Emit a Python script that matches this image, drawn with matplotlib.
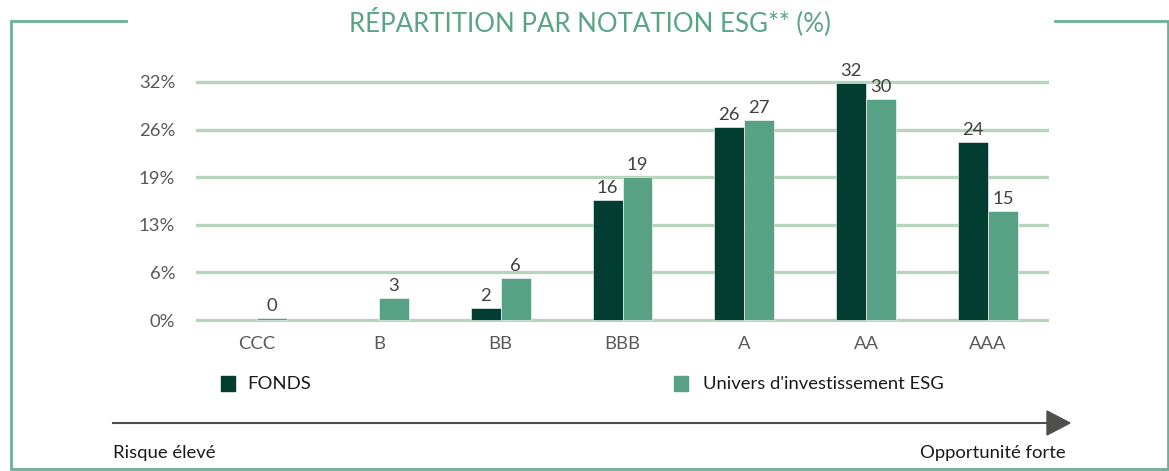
import matplotlib.pyplot as plt
import numpy as np
from matplotlib.patches import Rectangle, Polygon

plt.rcParams['font.family'] = ['Lato', 'DejaVu Sans']

categories = ["CCC", "B", "BB", "BBB", "A", "AA", "AAA"]
fonds = [None, None, 1.65, 16.1, 25.9, 31.9, 23.9]
univers = [0.3, 2.96, 5.6, 19.2, 26.9, 29.65, 14.6]
series_names = ["FONDS", "Univers d'investissement ESG"]
yticks = [0, 6.4, 12.8, 19.2, 25.6, 32]

c_fonds = "#013d31"
c_univ = "#57a285"
c_grid = "#b7d5bb"
c_frame = "#6cb095"
c_title = "#5aa483"
fs = 13.3

W, H = 1169, 471
fig = plt.figure(figsize=(W / 100, H / 100), dpi=100)

# main axes, placed in pixel units
px = 7.44
left, right = 196, 1049
y0 = 320 + 0.3 * px
y1 = 82 - 0.3 * px
ax = fig.add_axes([left / W, (H - y0) / H, (right - left) / W, (y0 - y1) / H])
ax.set_xlim(-0.5, len(categories) - 0.5)
ax.set_ylim(-0.3, 32.3)

x = np.arange(len(categories))
bw = 0.246
f_vals = [np.nan if v is None else v for v in fonds]
b1 = ax.bar(x - bw / 2, f_vals, bw, color=c_fonds, edgecolor="white", linewidth=0.4, zorder=3)
b2 = ax.bar(x + bw / 2, univers, bw, color=c_univ, edgecolor="white", linewidth=0.4, zorder=3)

for bars, vals in ((b1, fonds), (b2, univers)):
    for rect, v in zip(bars, vals):
        if v is None:
            continue
        ax.annotate(f"{v:.0f}", (rect.get_x() + rect.get_width() / 2, v),
                    xytext=(0, 3), textcoords="offset points", ha="center", va="bottom",
                    fontsize=fs, color="#404040", zorder=5)

ax.set_yticks(yticks)
ax.set_yticklabels([f"{t:.0f}%" for t in yticks])
ax.set_xticks(x)
ax.set_xticklabels(categories)
ax.tick_params(axis="y", length=0, pad=15, labelsize=fs, labelcolor="#595959")
ax.tick_params(axis="x", length=0, pad=10, labelsize=fs, labelcolor="#595959")
ax.grid(axis="y", color=c_grid, linewidth=2.4, zorder=0)
ax.set_axisbelow(True)
for s in ax.spines.values():
    s.set_visible(False)
ax.patch.set_alpha(0)

# overlay in pixel coordinates for frame, title, legend and arrow
ov = fig.add_axes([0, 0, 1, 1], zorder=-1)
ov.set_xlim(0, W)
ov.set_ylim(H, 0)
ov.axis("off")

ov.plot([126, 11, 11, 1168, 1168, 1055], [21, 21, 469, 469, 21, 21], color=c_frame, lw=2, solid_joinstyle="miter")
ov.text(590, 22, "RÉPARTITION PAR NOTATION ESG** (%)", ha="center", va="center",
        fontsize=18.6, color=c_title)

ov.add_patch(Rectangle((221, 376), 14, 15, color=c_fonds))
ov.text(247, 384, series_names[0], ha="left", va="center", fontsize=fs, color="#1a1a1a")
ov.add_patch(Rectangle((674, 376), 14, 15, color=c_univ))
ov.text(703, 384, series_names[1], ha="left", va="center", fontsize=fs, color="#1a1a1a")

ov.plot([113, 1048], [423, 423], color="#4d514b", lw=1.5)
ov.add_patch(Polygon([[1047, 411], [1047, 435], [1070, 423]], closed=True, color="#4d514b"))
ov.text(113, 453, "Risque élevé", ha="left", va="center", fontsize=fs, color="#1a1a1a")
ov.text(1066, 453, "Opportunité forte", ha="right", va="center", fontsize=fs, color="#1a1a1a")

fig.savefig("out.png", dpi=100)
